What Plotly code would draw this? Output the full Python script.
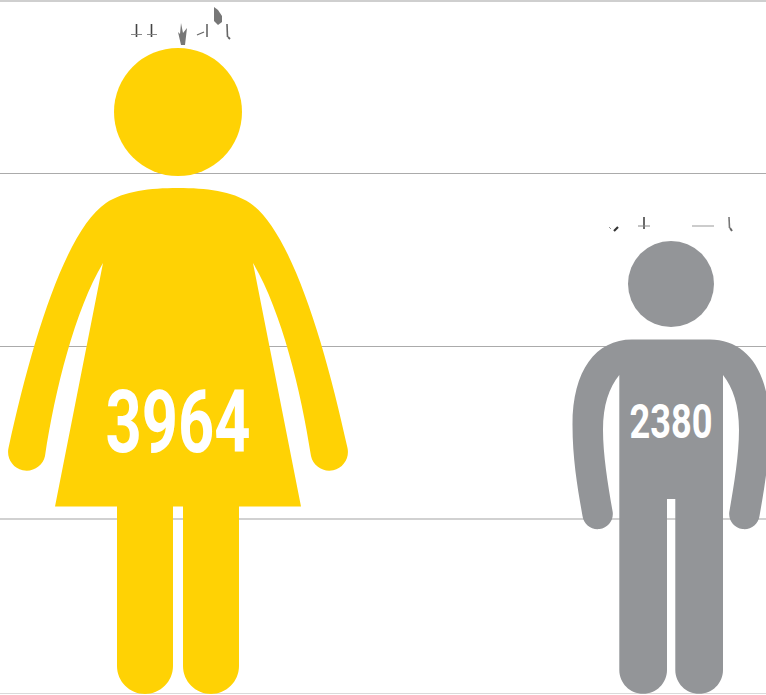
import plotly.graph_objects as go

# Data
categories = ["Women", "Men"]
values = [3964, 2380]
colors = ["#FFD204", "#939598"]
centers = [178, 671]
label_sizes = [87, 49]
label_y = [430, 426]
label_widths = [145, 83]
grid_lines = [1, 173.5, 346.5, 519, 693.5]
grid_colors = ["#cfcfcf", "#ababab", "#ababab", "#c2c2c2", "#dadada"]
grid_widths = [2, 1.2, 1.2, 1.6, 1.2]


def mirror(cx, x):
    return 2 * cx - x


def cap(x0, y0, x1, y1):
    """Rounded end running left to right and bulging downward."""
    k = 0.5523
    cx, cy = (x0 + x1) / 2, (y0 + y1) / 2
    rx, ry = x0 - cx, y0 - cy
    nx, ny = ry, -rx
    tx, ty = cx + nx, cy + ny
    return (
        f"C {x0 + k*nx:.2f},{y0 + k*ny:.2f} {tx + k*rx:.2f},{ty + k*ry:.2f} {tx:.2f},{ty:.2f} "
        f"C {tx - k*rx:.2f},{ty - k*ry:.2f} {x1 + k*nx:.2f},{y1 + k*ny:.2f} {x1:.2f},{y1:.2f} "
    )


def woman_path(c=178):
    m = lambda x: mirror(c, x)
    return (
        f"M {c},188 C 150,188 124,191 106,203 C 66,230 32,340 8.5,448 "
        + cap(8.5, 448, 45, 456) +
        f"C 55,390 75,310 103,263 L 55,506.5 L 117,506.5 L 117,666 "
        + cap(117, 666, 173, 666) +
        f"L 173,506.5 L 183,506.5 L 183,666 "
        + cap(183, 666, 239, 666) +
        f"L 239,506.5 L {m(55)},506.5 L {m(103)},263 "
        f"C {m(75)},310 {m(55)},390 {m(45)},456 "
        + cap(m(45), 456, m(8.5), 448) +
        f"C {m(32)},340 {m(66)},230 {m(106)},203 C {m(124)},191 {m(150)},188 {c},188 Z"
    )


def man_path(c=671):
    m = lambda x: mirror(c, x)
    return (
        f"M 632,339.5 C 596,339.5 572.5,370 572.5,425 C 572.5,460 578,490 582.5,516 "
        + cap(582.5, 516, 612.7, 512) +
        f"C 608,485 603,455 603,430 C 603,405 609,388 619.3,375 "
        f"L 619.3,670 "
        + cap(619.3, 670, 667, 670) +
        f"L 667,499 L 675.3,499 L 675.3,670 "
        + cap(675.3, 670, 723, 670) +
        f"L 723,375 "
        f"C {m(609)},388 {m(603)},405 {m(603)},430 C {m(603)},455 {m(608)},485 {m(612.7)},512 "
        + cap(m(612.7), 512, m(582.5), 516) +
        f"C {m(578)},490 {m(572.5)},460 {m(572.5)},425 "
        f"C {m(572.5)},370 {m(596)},339.5 {m(632)},339.5 Z"
    )


heads = [(178, 112, 64), (671, 284, 43)]
bodies = [woman_path(), man_path()]

# small broken marks above each figure, as in the reference
fragments = [
    (136.5, 24, 136.5, 37, 1.6, "#444444"), (131, 34.5, 142, 34.5, 1, "#888888"),
    (151.5, 24, 151.5, 37, 1.6, "#444444"), (147, 34.5, 157, 34.5, 1, "#888888"),
    (197, 35, 204, 32, 1.2, "#666666"),
    (207, 24, 207, 37, 1.8, "#777777"),
    (227, 24, 227.5, 37, 1.6, "#666666"), (228, 37, 230, 39, 1.8, "#666666"),
    (644, 217, 644, 229, 1.6, "#444444"), (638, 226, 650, 226, 1, "#888888"),
    (692, 226, 714, 226, 1, "#999999"),
    (729, 217, 729.5, 228, 1.6, "#777777"), (730, 228, 732, 231, 2, "#666666"),
    (609, 227, 611, 229, 1, "#999999"), (614, 231, 618, 227, 2.2, "#333333"),
]
blobs = [
    "M 181,23 L 183,33 L 187,28 L 185,45 L 181,45 L 178,32 L 180,34 Z",
    "M 214,7 L 218,10 L 222,16 L 222,22 L 218,25 L 214,21 Z",
]

fig = go.Figure()
shapes = []
for gy, gc, gw in zip(grid_lines, grid_colors, grid_widths):
    shapes.append(dict(type="line", x0=0, x1=766, y0=gy, y1=gy, xref="x", yref="y",
                       line=dict(color=gc, width=gw), layer="below"))
for path, color in zip(bodies, colors):
    shapes.append(dict(type="path", path=path, fillcolor=color, line_width=0,
                       xref="x", yref="y", layer="below"))
for (cx, cy, r), color in zip(heads, colors):
    shapes.append(dict(type="circle", x0=cx - r, x1=cx + r, y0=cy - r, y1=cy + r,
                       fillcolor=color, line_width=0, xref="x", yref="y", layer="below"))
for x0, y0, x1, y1, w, col in fragments:
    shapes.append(dict(type="line", x0=x0, y0=y0, x1=x1, y1=y1,
                       line=dict(color=col, width=w), xref="x", yref="y", layer="below"))
for p in blobs:
    shapes.append(dict(type="path", path=p, fillcolor="#777777", line_width=0,
                       xref="x", yref="y", layer="below"))

for name, val, cx, ly, size in zip(categories, values, centers, label_y, label_sizes):
    fig.add_trace(go.Scatter(
        x=[cx], y=[ly], mode="text", text=[str(val)], name=name,
        textposition="middle center", hoverinfo="skip", cliponaxis=False,
        textfont=dict(family="Roboto", size=size, color="white", weight=700),
    ))

fig.update_layout(
    width=766, height=695, margin=dict(l=0, r=0, t=0, b=0),
    paper_bgcolor="white", plot_bgcolor="white", showlegend=False, shapes=shapes,
    xaxis=dict(range=[0, 766], visible=False, fixedrange=True),
    yaxis=dict(range=[695, 0], visible=False, fixedrange=True),
)
squeeze = (
    "document.body.style.margin='0';document.body.style.overflow='hidden';"
    f"var w={label_widths};"
    "document.querySelectorAll('.textpoint text').forEach(function(t,i){"
    "t.setAttribute('textLength',w[i]);t.setAttribute('lengthAdjust','spacingAndGlyphs');});"
)
fig.write_html("out.html", config=dict(displayModeBar=False), post_script=squeeze)
